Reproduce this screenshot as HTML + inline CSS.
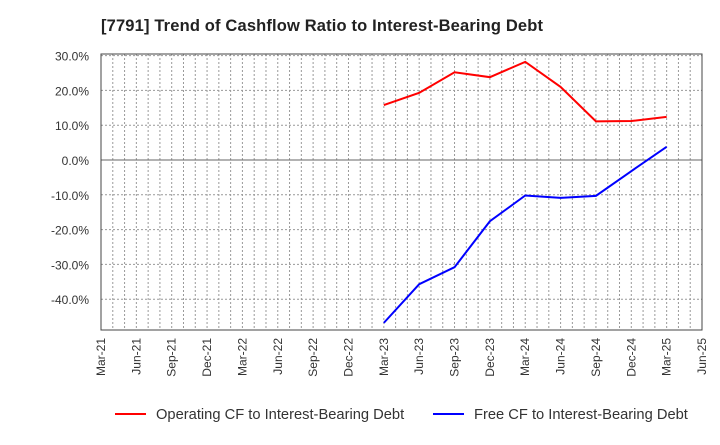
<!DOCTYPE html>
<html><head><meta charset="utf-8"><style>
body{margin:0;background:#fff;font-family:"Liberation Sans",sans-serif;}
</style></head><body>
<svg id="chart" width="720" height="440" xmlns="http://www.w3.org/2000/svg" font-family="Liberation Sans, sans-serif">
<text x="101" y="31" font-size="16.5" font-weight="bold" fill="#222" textLength="442">[7791]  Trend of Cashflow Ratio to Interest-Bearing Debt</text>
<g id="grid"></g><g id="axes"></g><g id="series"></g>
<g>
<line x1="115" y1="414" x2="146" y2="414" stroke="#f00" stroke-width="2"/>
<text x="156" y="419" font-size="14.7" fill="#333">Operating CF to Interest-Bearing Debt</text>
<line x1="433" y1="414" x2="464" y2="414" stroke="#00f" stroke-width="2"/>
<text x="474" y="419" font-size="14.7" fill="#333">Free CF to Interest-Bearing Debt</text>
</g>
</svg>
<script>
const xLabels=["Mar-21","Jun-21","Sep-21","Dec-21","Mar-22","Jun-22","Sep-22","Dec-22","Mar-23","Jun-23","Sep-23","Dec-23","Mar-24","Jun-24","Sep-24","Dec-24","Mar-25","Jun-25"];
const yTicks=[30,20,10,0,-10,-20,-30,-40];
const seriesQuarterIdx=[8,9,10,11,12,13,14,15,16];
const operatingCF=[15.8,19.3,25.2,23.8,28.2,21.0,11.1,11.2,12.4];
const freeCF=[-46.8,-35.7,-30.8,-17.6,-10.2,-10.9,-10.3,-3.2,3.8];
const L=101,R=702,T=54,B=330;
const X=q=>L+q*(R-L)/17;
const Y=v=>160-v*3.48;
const NS="http://www.w3.org/2000/svg";
function mk(tag,attrs,parent,txt){const e=document.createElementNS(NS,tag);for(const k in attrs)e.setAttribute(k,attrs[k]);if(txt!==undefined)e.textContent=txt;document.getElementById(parent).appendChild(e);return e;}
for(let m=1;m<51;m++){const x=L+m*(R-L)/51;const g=mk("line",{x1:x,y1:T,x2:x,y2:B,stroke:"#999","stroke-dasharray":"2,2","stroke-width":1},"grid");

}
yTicks.forEach(v=>{const y=Y(v);const g=mk("line",{x1:L,y1:y,x2:R,y2:y,stroke:v===0?"#666":"#999","stroke-dasharray":v===0?"none":"2,2","stroke-width":1},"grid");


const t=mk("text",{x:L-12,y:y+5,"text-anchor":"end","font-size":12,fill:"#333"},"axes",v.toFixed(1)+"%");

});
const fr=mk("rect",{x:L,y:T,width:R-L,height:B-T,fill:"none",stroke:"#444","stroke-width":1},"axes");


xLabels.forEach((s,i)=>{const x=X(i);const t=mk("text",{transform:`translate(${x+4},${B+8}) rotate(-90)`,"text-anchor":"end","font-size":12,fill:"#333"},"axes",s);

});
function line(vals,color,name){const pts=vals.map((v,i)=>X(seriesQuarterIdx[i])+","+Y(v)).join(" ");
const p=mk("polyline",{points:pts,fill:"none",stroke:color,"stroke-width":2},"series");

}
line(operatingCF,"#f00","operating-cf-line");
line(freeCF,"#00f","free-cf-line");
</script>
</body></html>
